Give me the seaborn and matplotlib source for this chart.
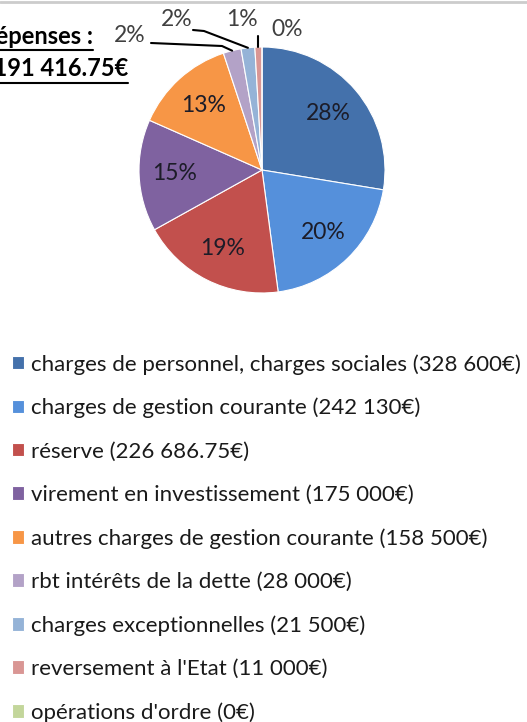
import matplotlib
matplotlib.use("Agg")
import matplotlib.pyplot as plt
from matplotlib.lines import Line2D
import seaborn as sns
import numpy as np

categories = [
    "charges de personnel, charges sociales",
    "charges de gestion courante",
    "réserve",
    "virement en investissement",
    "autres charges de gestion courante",
    "rbt intérêts de la dette",
    "charges exceptionnelles",
    "reversement à l'Etat",
    "opérations d'ordre",
]
amount_labels = ["328 600€", "242 130€", "226 686.75€", "175 000€", "158 500€",
                 "28 000€", "21 500€", "11 000€", "0€"]
values = [328600, 242130, 226686.75, 175000, 158500, 28000, 21500, 11000, 0]
colors = ["#4471AB", "#5590DB", "#C2504D", "#7F62A0", "#F79646",
          "#B3A2C7", "#95B3D7", "#D99694", "#C3D69B"]
title_lines = ["Total dépenses :", "1 191 416.75€"]

sns.set_theme(style="white")
plt.rcParams['font.family'] = ['Lato', 'DejaVu Sans']

W, H = 527, 722
fig = plt.figure(figsize=(W / 100, H / 100), dpi=100)
fig.patch.set_facecolor("white")

cx, cy, r = 262, 170, 123
ax = fig.add_axes([(cx - r) / W, 1 - (cy + r) / H, 2 * r / W, 2 * r / H])
palette = sns.color_palette(colors)

wedges, texts, autotexts = ax.pie(
    values, colors=palette, startangle=90, counterclock=False,
    autopct=lambda p: f"{p:.0f}%", pctdistance=0.71,
    wedgeprops=dict(edgecolor="white", linewidth=0.8),
    textprops=dict(fontsize=16.5, color="#1c1c28"), normalize=True)
ax.set_xlim(-1, 1)
ax.set_ylim(-1, 1)
ax.set_aspect("auto")
ax.axis("off")

# outside labels for the small slices
total = sum(values)
fr = np.cumsum([0] + values) / total
mid_ang = [np.deg2rad(90 - 360 * (fr[i] + fr[i + 1]) / 2) for i in range(len(values))]

def px2ax(x, y):
    return ((x - cx) / r, -(y - cy) / r)

outside = {5: (130, 36), 6: (177, 20), 7: (242, 20), 8: (287, 30)}
for i, (lx, ly) in outside.items():
    autotexts[i].set_position(px2ax(lx, ly))
    autotexts[i].set_color("#404040")
    autotexts[i].set_ha("center")
    autotexts[i].set_va("center")

edge = lambda i: (np.cos(mid_ang[i]), np.sin(mid_ang[i]))
lc = dict(color="black", lw=1.5, clip_on=False)
e = edge(5)
p0 = px2ax(151, 43)
p1 = px2ax(222, 46)
ax.plot([p0[0], p1[0], e[0]], [p0[1], p1[1], e[1]], **lc)
e = edge(6)
p0 = px2ax(193, 30)
p1 = px2ax(204, 31)
ax.plot([p0[0], p1[0], e[0]], [p0[1], p1[1], e[1]], **lc)
e = edge(7)
p0 = px2ax(259, 36)
ax.plot([e[0], e[0]], [p0[1], e[1]], **lc)

# legend
labels = [f"{c} ({a})" for c, a in zip(categories, amount_labels)]
fig.legend(wedges, labels, loc="upper left", bbox_to_anchor=(12 / W, 1 - 354 / H),
           frameon=False, fontsize=16, handlelength=0.55, handleheight=0.55,
           handletextpad=0.3, labelspacing=1.045, borderpad=0, borderaxespad=0,
           labelcolor="#1a1a1a")

# title (cropped at the left edge)
t1 = fig.text(93 / W, 1 - 44 / H, title_lines[0], ha="right", va="baseline",
              fontsize=17, fontweight="bold", color="black")
t2 = fig.text(128 / W, 1 - 76 / H, title_lines[1], ha="right", va="baseline",
              fontsize=17, fontweight="bold", color="black")
fig.canvas.draw()
rend = fig.canvas.get_renderer()
for t, yy in ((t1, 50), (t2, 83)):
    bb = t.get_window_extent(rend)
    fig.add_artist(Line2D([max(bb.x0, 0) / W, bb.x1 / W], [1 - yy / H] * 2,
                          color="black", lw=1.5))

fig.add_artist(Line2D([0, 1], [1 - 1.5 / H] * 2, color="#cccccc", lw=2))

fig.savefig("out.png", dpi=100, facecolor="white")
